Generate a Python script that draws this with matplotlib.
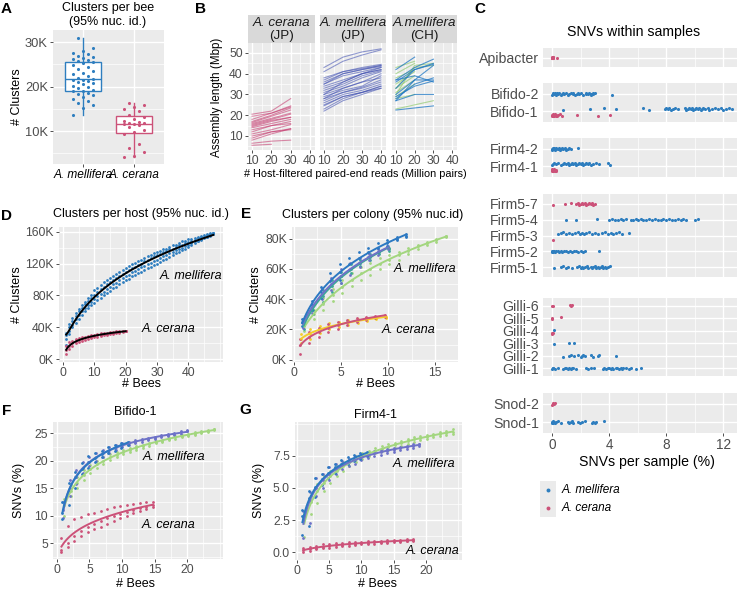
import numpy as np
import matplotlib
matplotlib.use("Agg")
import matplotlib.pyplot as plt
from matplotlib.ticker import AutoMinorLocator, FuncFormatter

plt.rcParams['font.family'] = ['Liberation Sans', 'DejaVu Sans']

# ---------------- data ----------------
# A: clusters per bee (thousands)
a_mel = [13.7, 15.2, 15.8, 16.3, 16.8, 17.2, 17.6, 18.0, 18.3, 18.6, 18.9,
         19.1, 19.3, 19.6, 19.9, 20.2, 20.5, 20.8, 21.0, 21.2, 21.4, 21.5,
         21.7, 21.9, 22.3, 22.8, 23.0, 23.4, 24.0, 24.5, 24.9, 25.2, 25.5,
         25.7, 25.9, 26.1, 26.3, 26.6, 26.8, 27.3, 27.6, 28.0, 28.6, 31.0]
a_cer = [4.2, 4.3, 5.3, 6.2, 7.0, 9.3, 9.8, 10.2, 11.0, 11.3, 11.5, 11.6,
         11.7, 11.9, 12.1, 12.3, 12.6, 13.2, 13.5, 14.6, 15.0, 15.4, 15.8, 16.3]
a_labels = ['A. mellifera', 'A. cerana']

# B: assembly length (Mbp) vs reads (million pairs)
b_reads = [10, 20, 30, 40]
b_cer_jp = [[20.5, 22, 28], [19.5, 21, 24.5], [18, 21, 24], [17, 20, 23.5],
            [16.5, 19.5, 22.5], [16, 18.5, 21], [15.5, 18, 20.5], [15, 17.5, 19],
            [14.5, 17, 19], [14, 16, 18], [13, 15, 17], [12, 15, 16],
            [11, 13, 15.5], [10, 12, 13.5], [9, 12, 13], [8, 11, 13.5],
            [6.5, 7.5, 8], [5.5, 6]]
b_mel_jp = [[43, 48, 50.5, 52], [41, 46, 49, 51.5], [38, 41, 43, 44.5], [37, 41, 42.5, 44],
            [36, 40, 42, 43.5], [35, 39, 41, 43], [34, 37, 40, 42], [33, 36, 40, 42],
            [32, 35, 39, 41.5], [31, 34, 38, 41], [30, 33, 36, 40], [29, 32, 34, 39],
            [28, 31, 33.5, 37], [27, 31, 33, 36], [26, 30, 32, 35], [25, 29, 31, 34],
            [24.5, 29, 31, 34], [23, 28, 31, 33], [22, 27, 30, 33], [28, 33, 36, 38],
            [30, 36, 40, 43], [35, 40, 42, 44]]
b_mel_ch_blue = [[42, 48], [37, 43, 47], [36, 42, 45], [33, 42, 44.5], [30, 37, 44],
                 [28, 35, 38], [27, 37, 37], [29, 34, 36.5], [27, 30, 30],
                 [22.5, 23.5, 24.5], [37, 39, 36]]
b_mel_ch_green = [[43, 46], [40, 45], [38, 42], [35, 41], [33, 39], [31, 37],
                  [29, 35], [28, 30], [23, 25, 27], [30, 44, 45], [33, 43, 44]]

# C: SNVs per sample (%)
apibacter_cer = [0.0, 0.0, 0.02, 0.03, 0.05, 0.05, 0.08, 0.1, 0.35]
bifido2_mel = [0.02, 0.05, 0.1, 0.15, 0.2, 0.25, 0.3, 0.35, 0.45, 0.5, 0.6, 0.7, 0.75,
               0.85, 0.95, 1.1, 1.2, 1.3, 1.45, 1.5, 1.6, 1.75, 1.8, 1.9, 2.0, 2.2,
               2.35, 2.4, 2.5, 2.6, 2.7, 2.75, 2.85, 2.9, 3.0, 4.2]
bifido1_mel = [0.75, 2.65, 3.65, 4.5, 6.35, 6.8, 7.9, 8.0, 8.1, 8.2, 8.3, 8.45, 8.6,
               8.8, 9.3, 9.4, 9.5, 9.6, 9.7, 9.8, 9.9, 10.0, 10.1, 10.2, 10.3, 10.4,
               10.5, 10.6, 10.7, 10.9, 11.0, 11.2, 11.4, 11.6, 11.8, 12.0, 12.2, 12.4, 12.6]
bifido1_cer = [0.0, 0.02, 0.05, 0.08, 0.1, 0.12, 0.15, 0.2, 0.25, 0.3, 0.35, 0.45,
               0.55, 0.7, 1.75, 3.25, 4.05]
firm42_mel = [0.0, 0.02, 0.05, 0.1, 0.15, 0.2, 0.25, 0.3, 0.4, 0.5, 0.55, 0.65, 0.7,
              0.8, 0.9, 1.0, 1.1, 1.2, 1.35, 1.8]
firm41_mel = [0.0, 0.05, 0.15, 0.3, 0.45, 0.6, 0.75, 0.85, 1.0, 1.1, 1.2, 1.3, 1.4,
              1.5, 1.6, 1.7, 1.8, 1.9, 2.0, 2.1, 2.2, 2.3, 2.4, 2.5, 2.6, 2.75, 2.9,
              3.1, 3.3, 3.9, 4.05]
firm41_cer = [0.0, 0.0, 0.02, 0.05, 0.08, 0.1, 0.12, 0.15, 0.2, 0.25, 0.3]
firm57_cer = [0.05, 0.9, 1.35, 1.65, 1.8, 1.9, 2.0, 2.1, 2.2, 2.3, 2.4, 2.5, 2.6,
              2.7, 2.8, 2.9, 3.0]
firm54_mel = [1.0, 1.7, 3.15, 4.0, 4.2, 4.4, 4.6, 4.8, 5.0, 5.2, 5.5, 5.7, 5.9, 6.0,
              6.2, 6.4, 6.6, 6.8, 7.0, 7.2, 7.4, 7.6, 7.8, 8.0, 8.2, 8.4, 8.6, 8.8,
              9.0, 9.2, 9.4, 10.0, 10.2]
firm53_mel = [0.45, 0.6, 0.75, 1.0, 1.2, 1.4, 1.6, 1.8, 1.95, 2.1, 2.25, 2.4, 2.6,
              2.8, 3.0, 3.2, 3.5, 3.7, 3.9, 4.1, 4.3, 4.5, 4.7, 4.9, 5.4]
firm53_cer = [0.05]
firm52_mel = [0.0, 0.02, 0.05, 0.1, 0.15, 0.2, 0.3, 0.4, 0.5, 0.6, 0.7, 0.85, 1.0,
              1.1, 1.25, 1.4, 1.55, 1.7, 1.85, 2.0, 2.15, 2.3, 3.3]
firm51_mel = [0.15, 0.6, 0.75, 0.95, 1.15, 1.4, 1.75, 1.9, 2.0, 2.1, 2.2, 2.3, 2.45,
              2.55, 2.7, 2.8, 2.9, 3.0, 3.1, 3.2, 3.3, 3.4, 3.5, 3.6, 3.7, 3.8, 3.9, 4.05]
gilli6_cer = [0.0, 0.05, 1.25, 1.35, 1.4]
gilli5_cer = [0.0, 0.02, 0.65]
gilli4_cer = [0.0, 0.0, 0.05]
gilli4_mel = [0.15]
gilli3_mel = [0.15, 1.2, 1.55]
gilli2_mel = [0.75, 1.2, 1.3, 1.55, 1.85, 2.0, 2.1, 2.2, 2.3, 2.7, 2.9, 3.2, 3.3, 4.45]
gilli1_mel = [0.0, 0.05, 0.1, 0.2, 0.4, 0.8, 0.9, 1.0, 1.1, 1.2, 1.3, 1.4, 1.5, 1.65,
              2.4, 2.5, 2.7, 2.95, 3.55, 3.65, 3.8, 3.9, 4.0, 4.1, 4.2, 4.3, 4.45,
              4.55, 4.7, 4.8, 4.9, 5.0, 5.2, 5.4, 5.5, 5.9, 6.2]
snod2_cer = [0.0, 0.05, 0.1, 0.15, 0.2]
snod1_mel = [0.0, 0.02, 0.05, 0.1, 0.15, 0.2, 0.3, 0.45, 0.65, 1.1, 1.2, 1.3, 1.4,
             1.5, 1.8, 1.95, 2.1, 2.3, 2.8, 2.9, 3.0, 3.05, 3.65]

# D: clusters per host (thousands), replicate rarefaction curves
d_mel_bees = list(range(1, 49))
d_mel_reps = [
    [33, 44, 52, 58, 63, 68, 72, 77, 81, 87, 90, 93, 97, 99, 102, 105, 107, 110, 112, 115,
     117, 119, 121, 123, 125, 127, 129, 131, 133, 135, 136, 138, 139, 141, 143, 144, 146,
     148, 149, 151, 151, 152, 153, 155, 156, 157, 158, 159],
    [30, 40, 48, 54, 60, 64, 69, 73, 77, 81, 84, 88, 91, 94, 97, 99, 102, 104, 107, 109,
     112, 114, 116, 118, 120, 123, 125, 127, 129, 131, 132, 134, 136, 138, 139, 141, 143,
     144, 146, 147, 149, 150, 152, 153, 154, 156, 157, 158],
    [26, 36, 43, 50, 55, 60, 64, 68, 72, 75, 79, 82, 85, 88, 91, 94, 96, 99, 102, 104,
     106, 109, 111, 113, 116, 117, 119, 121, 123, 125, 127, 129, 131, 133, 135, 137, 138,
     140, 142, 144, 146, 148, 149, 151, 153, 154, 156, 158],
    [18, 32, 40, 46, 51, 56, 61, 64, 68, 71, 74, 77, 80, 83, 86, 89, 91, 94, 97, 99,
     101, 104, 106, 108, 110, 112, 114, 116, 118, 120, 122, 124, 126, 128, 131, 133, 135,
     137, 139, 141, 144, 146, 148, 150, 152, 154, 155, 157]]
d_cer_bees = list(range(1, 21))
d_cer_reps = [
    [17, 21, 23, 25, 26.5, 27.5, 28.5, 29.5, 30.3, 31, 31.7, 32.3, 33, 33.5, 34, 34.5, 35, 35.5, 35.8, 36],
    [12, 17, 20, 22.5, 24, 25.5, 26.5, 27.5, 28.5, 29.3, 30, 30.8, 31.5, 32, 32.7, 33.2, 33.8, 34.3, 34.8, 35.3],
    [6, 13, 17, 20, 21.5, 23, 24.5, 25.5, 26.5, 27.5, 28.3, 29, 30, 30.5, 31.2, 32, 32.7, 33.3, 34, 34.8]]

# E: clusters per colony (thousands): [high, mid, low] per bee count
e_blue_bees = list(range(1, 13))
e_blue = [[27, 39, 48, 57, 63, 67, 71, 74, 77, 79, 81, 83],
          [25, 36, 45, 52, 58, 63, 67, 71, 74, 77, 80, 82],
          [22, 33, 41, 49, 53, 59, 64, 68, 71, 75, 79, 81]]
e_purple_bees = list(range(1, 11))
e_purple = [[27, 37, 47, 54, 60, 64, 67, 70, 73, 75],
            [24, 34, 43, 50, 55, 60, 64, 68, 71, 74],
            [21, 31, 40, 46, 51, 56, 61, 66, 69, 73]]
e_teal_bees = list(range(1, 11))
e_teal = [[26, 36, 46, 53, 58, 63, 66, 70, 72, 74],
          [23, 33, 42, 49, 55, 60, 64, 68, 71, 73],
          [20, 30, 38, 45, 51, 57, 62, 66, 70, 72]]
e_green_bees = list(range(1, 17))
e_green = [[25, 33, 41, 47, 53, 57, 61, 64, 67, 69, 71, 74, 76, 78, 80, 82],
           [22, 30, 37, 43, 48, 53, 57, 60, 63, 66, 69, 72, 75, 77, 79, 82],
           [19, 27, 33, 39, 44, 49, 53, 56, 60, 63, 66, 70, 73, 76, 78, 81]]
e_cer_bees = [0.7, 1.7, 2.7, 3.7, 4.7, 5.7, 6.7, 7.7, 8.7, 9.7]
e_yellow = [[17, 20, 22.5, 24, 25, 26, 27, 27.8, 28.3, 28.5],
            [14, 17, 20, 22, 23.5, 24.8, 26, 26.8, 27.5, 28],
            [11, 14, 17.5, 20, 21.5, 23, 24.5, 25.8, 26.7, 27.5]]
e_pink = [[14, 18, 21, 23.5, 25, 26.5, 27.5, 28.5, 29, 29.5],
          [10, 15, 18.5, 21, 23, 24.8, 26.2, 27.3, 28.3, 29],
          [4, 11, 15, 18, 20.5, 23, 25, 26.2, 27.5, 28.5]]

# F: Bifido-1 SNVs (%)
f_blue_bees = list(range(1, 12))
f_blue = [[12.5, 16, 18, 19.5, 20.8, 21.3, 21.8, 22.4, 22.8, 23.1, 23.3],
          [10.5, 14.5, 17, 18.5, 19.7, 20.5, 21.2, 21.8, 22.3, 22.7, 23],
          [9.3, 12, 15, 17.5, 18.7, 19.8, 20.6, 21.3, 21.8, 22.3, 22.8]]
f_purple_bees = list(range(1, 21))
f_purple = [[12.5, 16.5, 18.2, 19.7, 20.7, 21.3, 21.9, 22.4, 22.8, 23.2, 23.4, 23.7, 23.9, 24.1, 24.3, 24.6, 24.8, 25, 25.3, 25.5],
            [11, 15, 17, 18.7, 19.8, 20.6, 21.3, 21.9, 22.4, 22.8, 23.1, 23.4, 23.7, 23.9, 24.1, 24.4, 24.6, 24.8, 25.1, 25.4],
            [9.5, 13.5, 15.8, 17.7, 19, 19.9, 20.7, 21.4, 21.9, 22.4, 22.8, 23.1, 23.4, 23.7, 23.9, 24.2, 24.4, 24.6, 24.9, 25.3]]
f_green_bees = list(range(1, 25))
f_green = [[13, 15.5, 17, 18.2, 19.2, 19.9, 20.6, 21.1, 21.5, 21.9, 22.3, 22.6, 22.9, 23.2, 23.5, 23.8, 24.1, 24.4, 24.6, 24.9, 25.1, 25.4, 25.6, 25.8],
           [12, 14.5, 16, 17.3, 18.5, 19.3, 20, 20.6, 21, 21.5, 21.9, 22.3, 22.6, 23, 23.3, 23.6, 23.9, 24.2, 24.4, 24.7, 24.9, 25.2, 25.4, 25.7],
           [10, 13.5, 15, 16.5, 17.8, 18.7, 19.4, 20.1, 20.6, 21.1, 21.5, 22, 22.3, 22.7, 23.1, 23.4, 23.7, 24, 24.2, 24.5, 24.7, 25, 25.2, 25.6]]
f_pink_bees = [0.7, 1.7, 2.7, 3.7, 4.7, 5.7, 6.7, 7.7, 8.7, 9.7, 10.7, 11.7, 12.7, 13.7, 14.7]
f_pink = [[6, 8.1, 9.3, 9.8, 10.2, 10.5, 10.9, 11.2, 11.5, 11.7, 12, 12.1, 12.3, 12.4, 12.5],
          [3.8, 5, 6.3, 7.2, 8, 8.5, 9, 9.5, 10, 10.3, 10.7, 11, 11.3, 11.6, 11.9],
          [3.3, 4.3, 5.3, 6.2, 7, 7.5, 8, 8.5, 9, 9.5, 10, 10.4, 10.8, 11.1, 11.5]]

# G: Firm4-1 SNVs (%)
g_blue_bees = list(range(1, 12))
g_blue = [[3.3, 4.8, 5.8, 6.1, 6.6, 6.9, 7.2, 7.4, 7.6, 7.7, 7.8],
          [2.8, 4.2, 5.1, 5.7, 6.2, 6.6, 6.9, 7.1, 7.3, 7.5, 7.6],
          [1.3, 2.0, 4.3, 5.2, 5.8, 6.2, 6.6, 6.9, 7.1, 7.3, 7.5]]
g_purple_bees = list(range(1, 20))
g_purple = [[3.2, 4.7, 5.8, 6.1, 6.6, 6.9, 7.1, 7.3, 7.5, 7.6, 7.75, 7.85, 7.95, 8.05, 8.15, 8.2, 8.3, 8.4, 8.45],
            [2.7, 4.1, 5.0, 5.6, 6.1, 6.5, 6.8, 7.0, 7.2, 7.4, 7.55, 7.7, 7.8, 7.9, 8.0, 8.1, 8.2, 8.3, 8.4],
            [1.1, 2.3, 4.4, 5.0, 5.6, 6.1, 6.5, 6.7, 6.9, 7.2, 7.35, 7.5, 7.6, 7.7, 7.8, 7.95, 8.05, 8.15, 8.3]]
g_green_bees = list(range(1, 25))
g_green = [[3.0, 4.4, 5.3, 5.9, 6.3, 6.7, 7.0, 7.3, 7.5, 7.7, 7.9, 8.1, 8.25, 8.4, 8.55, 8.7, 8.8, 8.95, 9.05, 9.15, 9.25, 9.35, 9.45, 9.6],
           [2.6, 3.9, 4.8, 5.4, 5.9, 6.3, 6.7, 7.0, 7.3, 7.5, 7.7, 7.9, 8.05, 8.2, 8.35, 8.5, 8.65, 8.8, 8.9, 9.0, 9.1, 9.2, 9.3, 9.35],
           [1.2, 3.0, 3.8, 4.8, 5.4, 5.9, 6.3, 6.7, 7.0, 7.3, 7.5, 7.7, 7.85, 8.0, 8.15, 8.3, 8.45, 8.6, 8.75, 8.85, 8.95, 9.05, 9.15, 9.25]]
g_pink_bees = list(range(1, 19))
g_pink = [[0.3, 0.4, 0.5, 0.6, 0.62, 0.67, 0.72, 0.75, 0.78, 0.82, 0.84, 0.87, 0.9, 0.92, 0.94, 0.96, 0.98, 1.0],
          [0.15, 0.25, 0.35, 0.42, 0.48, 0.53, 0.58, 0.62, 0.66, 0.7, 0.73, 0.76, 0.79, 0.82, 0.85, 0.88, 0.9, 0.93],
          [0.0, 0.1, 0.2, 0.28, 0.35, 0.4, 0.45, 0.5, 0.55, 0.6, 0.63, 0.66, 0.7, 0.73, 0.76, 0.8, 0.83, 0.88]]

# ---------------- style ----------------
BLUE = '#2E7EBF'
PINK = '#CC5279'
C_BLUE = '#2B78C2'
C_PURPLE = '#6E72C8'
C_TEAL = '#3AA896'
C_GREEN = '#A3D67F'
C_YELLOW = '#F4CD2A'
GREY_TXT = '#4D4D4D'
FS = 9      # titles / axis labels
TS = 8.8    # tick labels

W, H = 740, 592
fig = plt.figure(figsize=(7.4, 5.92), dpi=100)


def px_axes(l, t, r, b):
    return fig.add_axes([l / W, 1 - b / H, (r - l) / W, (b - t) / H])


def ftext(x, y, s, **kw):
    kw.setdefault('ha', 'center')
    kw.setdefault('va', 'center')
    fig.text(x / W, 1 - y / H, s, **kw)


def gg(ax, minor_x=True, minor_y=True, ts=TS):
    ax.set_facecolor('#EBEBEB')
    for sp in ax.spines.values():
        sp.set_visible(False)
    if minor_x:
        ax.xaxis.set_minor_locator(AutoMinorLocator(2))
    if minor_y:
        ax.yaxis.set_minor_locator(AutoMinorLocator(2))
    ax.grid(True, which='major', color='white', lw=1.0)
    ax.grid(True, which='minor', color='white', lw=0.5)
    ax.set_axisbelow(True)
    ax.tick_params(which='major', length=2.5, width=0.6, color='#333333',
                   labelsize=ts, labelcolor=GREY_TXT, pad=1.2)
    ax.tick_params(which='minor', length=0)


kfmt = FuncFormatter(lambda v, p: '%dK' % round(v))


def jit(n, amp):
    return amp * ((((np.arange(n) * 7) % 5) - 2) / 2.0)


def fit_line(ax, x, y, color, lw=1.4):
    x = np.asarray(x, float)
    y = np.asarray(y, float)
    coef = np.polyfit(np.log(x), y, 2)
    xs = np.linspace(x.min(), x.max(), 120)
    ax.plot(xs, np.polyval(coef, np.log(xs)), color=color, lw=lw, zorder=4)


def rep_points(ax, bees, reps, color, dx=0.0, s=4):
    xs, ys = [], []
    for r in reps:
        xs += [b + dx for b in bees[:len(r)]]
        ys += list(r)
    ax.scatter(xs, ys, s=s, color=color, lw=0, zorder=3)
    return xs, ys


# ---------------- A ----------------
axA = px_axes(53, 30, 164, 164)
gg(axA, minor_x=False, ts=9.3)
bp = axA.boxplot([a_mel, a_cer], positions=[1, 2], widths=0.72, whis=(0, 100),
                 patch_artist=True, showfliers=False)
for i, c in enumerate([BLUE, PINK]):
    bp['boxes'][i].set(facecolor='white', edgecolor=c, lw=1.0)
    bp['medians'][i].set(color=c, lw=1.0)
    for w in bp['whiskers'][2 * i:2 * i + 2]:
        w.set(color=c, lw=1.0)
    for cap in bp['caps'][2 * i:2 * i + 2]:
        cap.set_visible(False)
for pos, vals, c in [(1, a_mel, BLUE), (2, a_cer, PINK)]:
    axA.scatter(pos + jit(len(vals), 0.2), vals, s=5, color=c, lw=0, zorder=5)
axA.set_xlim(0.4, 2.6)
axA.set_ylim(2.6, 32.7)
axA.set_yticks([10, 20, 30])
axA.yaxis.set_major_formatter(kfmt)
axA.set_xticks([1, 2])
axA.set_xticklabels(a_labels, fontstyle='italic', fontsize=8.6, color='black')
ftext(108, 15, 'Clusters per bee\n(95% nuc. id.)', fontsize=FS, linespacing=1.3)
ftext(17, 97, '# Clusters', rotation=90, fontsize=FS)

# ---------------- B ----------------
b_facets = [((248, 315), 'A. cerana', '(JP)'),
            ((320, 386), 'A. mellifera', '(JP)'),
            ((392, 457), 'A.mellifera', '(CH)')]
b_axes = []
for k, ((l, r), t1, t2) in enumerate(b_facets):
    ax = px_axes(l, 43, r, 150)
    gg(ax)
    ax.set_xlim(7.9, 42.6)
    ax.set_ylim(3.25, 54.8)
    ax.set_xticks([10, 20, 30, 40])
    ax.set_yticks([10, 20, 30, 40, 50])
    if k > 0:
        ax.tick_params(labelleft=False, left=False)
    st = px_axes(l, 15, r, 43)
    st.set_facecolor('#D9D9D9')
    st.set_xticks([])
    st.set_yticks([])
    for sp in st.spines.values():
        sp.set_visible(False)
    st.text(0.5, 0.72, t1, ha='center', va='center', fontsize=9.6, fontstyle='italic',
            color='#1A1A1A', transform=st.transAxes)
    st.text(0.5, 0.25, t2, ha='center', va='center', fontsize=9.6,
            color='#1A1A1A', transform=st.transAxes)
    b_axes.append(ax)
for line in b_cer_jp:
    b_axes[0].plot(b_reads[:len(line)], line, color='#C4336A', alpha=0.55, lw=0.8)
for line in b_mel_jp:
    b_axes[1].plot(b_reads[:len(line)], line, color='#3D4DB0', alpha=0.55, lw=0.8)
for line in b_mel_ch_green:
    b_axes[2].plot(b_reads[:len(line)], line, color='#8CC96A', alpha=0.65, lw=0.8)
for line in b_mel_ch_blue:
    b_axes[2].plot(b_reads[:len(line)], line, color='#1F77C4', alpha=0.75, lw=0.8)
ftext(217, 97, 'Assembly length (Mbp)', rotation=90, fontsize=8.4)
ftext(355, 174, '# Host-filtered paired-end reads (Million pairs)', fontsize=7.8)

# ---------------- C ----------------
c_mel = {'Bifido-2': bifido2_mel, 'Bifido-1': bifido1_mel, 'Firm4-2': firm42_mel,
         'Firm4-1': firm41_mel, 'Firm5-4': firm54_mel, 'Firm5-3': firm53_mel,
         'Firm5-2': firm52_mel, 'Firm5-1': firm51_mel, 'Gilli-4': gilli4_mel,
         'Gilli-3': gilli3_mel, 'Gilli-2': gilli2_mel, 'Gilli-1': gilli1_mel,
         'Snod-1': snod1_mel}
c_cer = {'Apibacter': apibacter_cer, 'Bifido-1': bifido1_cer, 'Firm4-1': firm41_cer,
         'Firm5-7': firm57_cer, 'Firm5-3': firm53_cer, 'Gilli-6': gilli6_cer,
         'Gilli-5': gilli5_cer, 'Gilli-4': gilli4_cer, 'Snod-2': snod2_cer}
c_panels = [((48, 67), ['Apibacter']),
            ((83, 122), ['Bifido-2', 'Bifido-1']),
            ((138, 177), ['Firm4-2', 'Firm4-1']),
            ((194, 277), ['Firm5-7', 'Firm5-4', 'Firm5-3', 'Firm5-2', 'Firm5-1']),
            ((298, 376), ['Gilli-6', 'Gilli-5', 'Gilli-4', 'Gilli-3', 'Gilli-2', 'Gilli-1']),
            ((393, 433), ['Snod-2', 'Snod-1'])]
for k, ((t, b), cats) in enumerate(c_panels):
    ax = px_axes(543, t, 737, b)
    gg(ax, minor_y=False)
    n = len(cats)
    ax.set_ylim(0.4, n + 0.6)
    ax.set_xlim(-0.63, 12.95)
    ax.set_xticks([0, 4, 8, 12])
    ax.set_yticks([n - i for i in range(n)])
    ax.set_yticklabels(cats, fontsize=10.2)
    ax.tick_params(axis='y', length=0, pad=3)
    for i, cat in enumerate(cats):
        y0 = n - i
        both = cat in c_mel and cat in c_cer
        if cat in c_mel:
            v = c_mel[cat]
            ax.scatter(v, y0 + (0.15 if both else 0) + jit(len(v), 0.06), s=5,
                       color=BLUE, lw=0, zorder=3)
        if cat in c_cer:
            v = c_cer[cat]
            ax.scatter(v, y0 - (0.22 if both else 0) + jit(len(v), 0.06), s=5,
                       color=PINK, lw=0, zorder=3)
    if k < len(c_panels) - 1:
        ax.tick_params(axis='x', labelbottom=False, bottom=False)
    else:
        ax.tick_params(axis='x', labelsize=9.8)
ftext(634, 32, 'SNVs within samples', fontsize=10.2)
ftext(647, 462, 'SNVs per sample (%)', fontsize=10.2)
leg = px_axes(540, 481, 556, 517)
leg.set_facecolor('#EBEBEB')
for sp in leg.spines.values():
    sp.set_visible(False)
leg.set_xticks([])
leg.set_yticks([])
leg.set_xlim(0, 1)
leg.set_ylim(0, 2)
leg.scatter([0.5], [1.5], s=8, color=BLUE, lw=0)
leg.scatter([0.5], [0.5], s=8, color=PINK, lw=0)
ftext(562, 490, 'A. mellifera', fontsize=8.5, fontstyle='italic', ha='left')
ftext(562, 508, 'A. cerana', fontsize=8.5, fontstyle='italic', ha='left')

# ---------------- D ----------------
axD = px_axes(59, 227, 223, 362)
gg(axD)
mx, my = rep_points(axD, d_mel_bees, d_mel_reps, BLUE)
cx, cy = rep_points(axD, d_cer_bees, d_cer_reps, PINK)
fit_line(axD, mx, my, 'black')
fit_line(axD, cx, cy, 'black')
axD.set_xlim(-1.3, 51.1)
axD.set_ylim(-3.5, 166)
axD.set_xticks([0, 10, 20, 30, 40])
axD.set_yticks([0, 40, 80, 120, 160])
axD.yaxis.set_major_formatter(kfmt)
axD.text(41, 105, 'A. mellifera', fontstyle='italic', fontsize=FS, ha='center', va='center')
axD.text(33.6, 38, 'A. cerana', fontstyle='italic', fontsize=FS, ha='center', va='center')
ftext(141, 214, 'Clusters per host (95% nuc. id.)', fontsize=FS)
ftext(141, 384, '# Bees', fontsize=FS)
ftext(17, 295, '# Clusters', rotation=90, fontsize=FS)

# ---------------- E ----------------
axE = px_axes(292, 227, 458, 362)
gg(axE)
for bees, reps, c, dx in [(e_green_bees, e_green, C_GREEN, 0.12),
                          (e_teal_bees, e_teal, C_TEAL, 0.04),
                          (e_purple_bees, e_purple, C_PURPLE, -0.04),
                          (e_blue_bees, e_blue, C_BLUE, -0.12),
                          (e_cer_bees, e_yellow, C_YELLOW, 0.05),
                          (e_cer_bees, e_pink, PINK, -0.05)]:
    xs, ys = rep_points(axE, bees, reps, c, dx=dx)
    fit_line(axE, xs, ys, c)
axE.set_xlim(-0.2, 17.4)
axE.set_ylim(-1.5, 87.7)
axE.set_xticks([0, 5, 10, 15])
axE.set_yticks([0, 20, 40, 60, 80])
axE.yaxis.set_major_formatter(kfmt)
axE.text(13.9, 60, 'A. mellifera', fontstyle='italic', fontsize=FS, ha='center', va='center')
axE.text(12.2, 19.7, 'A. cerana', fontstyle='italic', fontsize=FS, ha='center', va='center')
ftext(373, 215, 'Clusters per colony (95% nuc.id)', fontsize=FS)
ftext(375, 384, '# Bees', fontsize=FS)
ftext(256, 295, '# Clusters', rotation=90, fontsize=FS)

# ---------------- F ----------------
axF = px_axes(53, 422, 223, 559)
gg(axF)
for bees, reps, c, dx in [(f_green_bees, f_green, C_GREEN, 0.15),
                          (f_purple_bees, f_purple, C_PURPLE, 0.0),
                          (f_blue_bees, f_blue, C_BLUE, -0.15),
                          (f_pink_bees, f_pink, PINK, 0.0)]:
    xs, ys = rep_points(axF, bees, reps, c, dx=dx)
    fit_line(axF, xs, ys, c)
axF.set_xlim(-0.6, 25.5)
axF.set_ylim(2.1, 27)
axF.set_xticks([0, 5, 10, 15, 20])
axF.set_yticks([5, 10, 15, 20, 25])
axF.text(18, 20.7, 'A. mellifera', fontstyle='italic', fontsize=FS, ha='center', va='center')
axF.text(17.2, 8.2, 'A. cerana', fontstyle='italic', fontsize=FS, ha='center', va='center')
ftext(135, 412, 'Bifido-1', fontsize=FS)
ftext(135, 584, '# Bees', fontsize=FS)
ftext(19, 490, 'SNVs (%)', rotation=90, fontsize=FS)

# ---------------- G ----------------
axG = px_axes(295, 422, 462, 560)
gg(axG)
for bees, reps, c, dx in [(g_green_bees, g_green, C_GREEN, 0.15),
                          (g_purple_bees, g_purple, C_PURPLE, 0.0),
                          (g_blue_bees, g_blue, C_BLUE, -0.15),
                          (g_pink_bees, g_pink, PINK, 0.0)]:
    xs, ys = rep_points(axG, bees, reps, c, dx=dx)
    fit_line(axG, xs, ys, c)
axG.set_xlim(-0.3, 25.6)
axG.set_ylim(-0.62, 10.15)
axG.set_xticks([0, 5, 10, 15, 20])
axG.set_yticks([0, 2.5, 5, 7.5])
axG.yaxis.set_major_formatter(FuncFormatter(lambda v, p: '%.1f' % v))
axG.text(19.7, 6.9, 'A. mellifera', fontstyle='italic', fontsize=FS, ha='center', va='center')
axG.text(21, 0.05, 'A. cerana', fontstyle='italic', fontsize=FS, ha='center', va='center')
ftext(375, 415, 'Firm4-1', fontsize=FS)
ftext(378, 584, '# Bees', fontsize=FS)
ftext(259, 490, 'SNVs (%)', rotation=90, fontsize=FS)

# panel letters
for letter, x, y in [('A', 6, 9), ('B', 201, 9), ('C', 480, 9), ('D', 7, 216),
                     ('E', 246, 214), ('F', 7, 411), ('G', 245, 410)]:
    ftext(x, y, letter, fontsize=11, fontweight='bold')

fig.savefig('out.png', dpi=100)
